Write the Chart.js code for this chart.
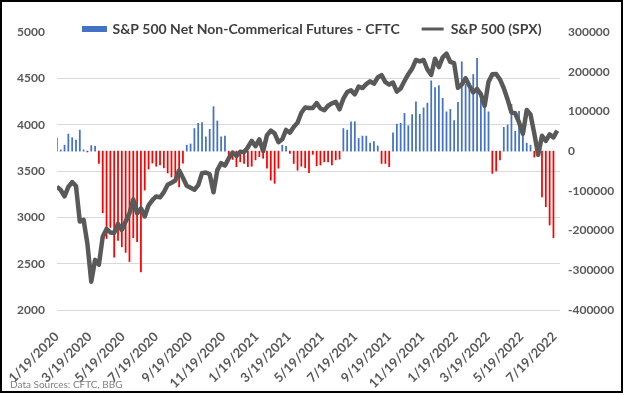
<!DOCTYPE html>
<html>
<head>
<meta charset="utf-8">
<script src="https://cdn.jsdelivr.net/npm/chart.js@4.4.0/dist/chart.umd.min.js"></script>
<style>
  html, body { margin: 0; padding: 0; background: #fff; }
  #wrap { position: relative; width: 625px; height: 395px; }
  #frame { position: absolute; left: 0; top: 0; width: 623px; height: 393px; border: 2px solid #000; box-sizing: border-box; pointer-events: none; }
  #note { position: absolute; left: 10px; top: 378px; font: 10px Lato, sans-serif; color: #7f7f7f; }
</style>
</head>
<body>
<div id="wrap">
  <canvas id="futuresChart" width="625" height="395"></canvas>
  <div id="note">Data Sources: CFTC, BBG</div>
  <div id="frame"></div>
</div>
<script>
// weekly points, first week is 1/19/2020
const firstWeek = "1/19/2020";

const tickLabels = ["1/19/2020", "3/19/2020", "5/19/2020", "7/19/2020", "9/19/2020", "11/19/2020",
  "1/19/2021", "3/19/2021", "5/19/2021", "7/19/2021", "9/19/2021", "11/19/2021",
  "1/19/2022", "3/19/2022", "5/19/2022", "7/19/2022"];

// net non-commercial positions (contracts), last week not reported yet
const netFutures = [
  32000, 3000, 15000, 43000, 34000, 28000, 53000, 3000, -2000, 14000, 12000, -31000,
  -155000, -220000, -192000, -267000, -225000, -241000, -255000, -278000, -218000, -228000, -304000, -98000,
  -45000, -30000, -38000, -35000, -42000, -55000, -65000, -72000, -90000, -30000,
  15000, 18000, 57000, 70000, 72000, 36000, 55000, 112000, 76000, 36000, 38000,
  -14000, -21000, -39000, -27000, -31000, -39000, -38000, -22000, -14000, -18000, -43000, -73000, -81000, -43000,
  15000, 12000, -6000, -31000, -48000, -38000, -42000, -54000, -8000, -37000, -35000, -27000, -27000, -35000, -22000, -20000,
  57000, 53000, 74000, 74000, 32000, 38000, 38000, 20000, 24000, 13000,
  -31000, -31000, -39000,
  46000, 68000, 70000, 95000, 64000, 92000, 124000, 93000, 109000, 121000, 177000, 160000, 165000, 133000,
  99000, 105000, 77000, 123000, 225000, 168000, 156000, 193000, 234000, 137000, 115000, 99000,
  -56000, -50000, -22000,
  60000, 66000, 118000, 50000, 100000, 42000, 20000, 15000,
  -15000, -3000, -115000, -140000, -186000, -218000
];

// S&P 500 weekly close
const spxClose = [
  3330, 3295, 3226, 3328, 3380, 3338, 2954, 2972, 2711, 2305, 2541, 2489, 2790, 2875, 2837, 2831, 2930, 2864,
  2955, 3044, 3194, 3041, 3098, 3009, 3130, 3185, 3225, 3216, 3271, 3351, 3373, 3397, 3508, 3427, 3341, 3319,
  3298, 3348, 3477, 3484, 3465, 3270, 3509, 3585, 3558, 3638, 3699, 3663, 3709, 3703, 3756,
  3825, 3768, 3841, 3714, 3887, 3935, 3907, 3811, 3842, 3943, 3913, 3975, 4020, 4129, 4185, 4180, 4181, 4233,
  4174, 4156, 4204, 4230, 4247, 4166, 4281, 4352, 4370, 4327, 4412, 4395, 4437, 4468, 4442, 4509, 4535, 4459,
  4433, 4455, 4357, 4391, 4471, 4545, 4605, 4698, 4683, 4698, 4595, 4538, 4712, 4621, 4726, 4766,
  4677, 4663, 4398, 4432, 4501, 4419, 4349, 4385, 4329, 4204, 4463, 4543, 4546, 4488, 4393, 4272, 4132, 4123,
  4024, 3901, 4158, 4109, 3901, 3675, 3880, 3825, 3895, 3863, 3935
];

const blue = "#4472C4";
const red = "#FF0000";
const lineGray = "#595959";
const tickFont = { family: "Lato", size: 12, weight: "bold" };
const dateFont = { family: "Lato", size: 13, weight: "bold" };

function dayNum(s) {
  const [m, d, y] = s.split("/").map(Number);
  const [m0, d0, y0] = firstWeek.split("/").map(Number);
  return Math.round((Date.UTC(y, m - 1, d) - Date.UTC(y0, m0 - 1, d0)) / 86400000);
}

const weekDay = spxClose.map((v, i) => i * 7);

// legend sits over the top of the plot, like the excel one
const legendShift = {
  id: "legendShift",
  afterLayout(chart) {
    const lg = chart.legend;
    lg.top = 0;
    lg.bottom = 50;
  }
};

new Chart("futuresChart", {
  type: "bar",
  data: {
    datasets: [
      {
        type: "bar",
        label: "S&P 500 Net Non-Commerical Futures - CFTC",
        data: netFutures.map((v, i) => ({ x: weekDay[i], y: v })),
        backgroundColor: netFutures.map(v => v < 0 ? red : blue),
        barThickness: 1.1,
        yAxisID: "y1",
        order: 1
      },
      {
        type: "line",
        label: "S&P 500 (SPX)",
        data: spxClose.map((v, i) => ({ x: weekDay[i], y: v })),
        borderColor: lineGray,
        borderWidth: 4.5,
        borderJoinStyle: "round",
        pointRadius: 0,
        tension: 0,
        yAxisID: "y",
        order: 0
      }
    ]
  },
  options: {
    responsive: false,
    animation: false,
    layout: { padding: 0 },
    plugins: {
      tooltip: { enabled: false },
      legend: {
        position: "top",
        maxHeight: 32,
        labels: {
          boxWidth: 22,
          boxHeight: 3,
          padding: 22,
          color: "#404040",
          font: { family: "Lato", size: 14, weight: "bold" },
          sort: (a, b) => a.datasetIndex - b.datasetIndex,
          generateLabels: chart => chart.data.datasets.map((ds, i) => ({
            text: ds.label,
            datasetIndex: i,
            fillStyle: i === 0 ? blue : lineGray,
            strokeStyle: i === 0 ? blue : lineGray,
            lineWidth: i === 0 ? 3 : 0,
            fontColor: "#404040",
            hidden: false
          }))
        }
      }
    },
    scales: {
      x: {
        type: "linear",
        min: 0,
        max: 922,
        offset: false,
        grid: { display: false },
        border: { display: false },
        afterBuildTicks: scale => {
          scale.ticks = tickLabels.map(t => ({ value: dayNum(t) }));
        },
        afterFit: scale => { scale.height = 85; },
        ticks: {
          autoSkip: false,
          minRotation: 45,
          maxRotation: 45,
          padding: 11,
          color: "#595959",
          font: dateFont,
          callback: (value, index) => tickLabels[index]
        }
      },
      y: {
        position: "left",
        min: 2000,
        max: 5000,
        border: { display: false },
        grid: {
          drawTicks: false,
          color: ctx => ctx.tick && ctx.tick.value === 5000 ? "rgba(0,0,0,0)" : "#d9d9d9"
        },
        afterFit: scale => { scale.width = 54; },
        ticks: { stepSize: 500, padding: 12, color: "#595959", font: tickFont, callback: v => String(v) }
      },
      y1: {
        position: "right",
        min: -400000,
        max: 300000,
        border: { display: false },
        grid: { display: false, drawTicks: false },
        afterFit: scale => { scale.width = 65; },
        ticks: { stepSize: 100000, padding: 8, color: "#595959", font: tickFont, callback: v => String(v) }
      }
    }
  },
  plugins: [legendShift]
});
</script>
</body>
</html>
